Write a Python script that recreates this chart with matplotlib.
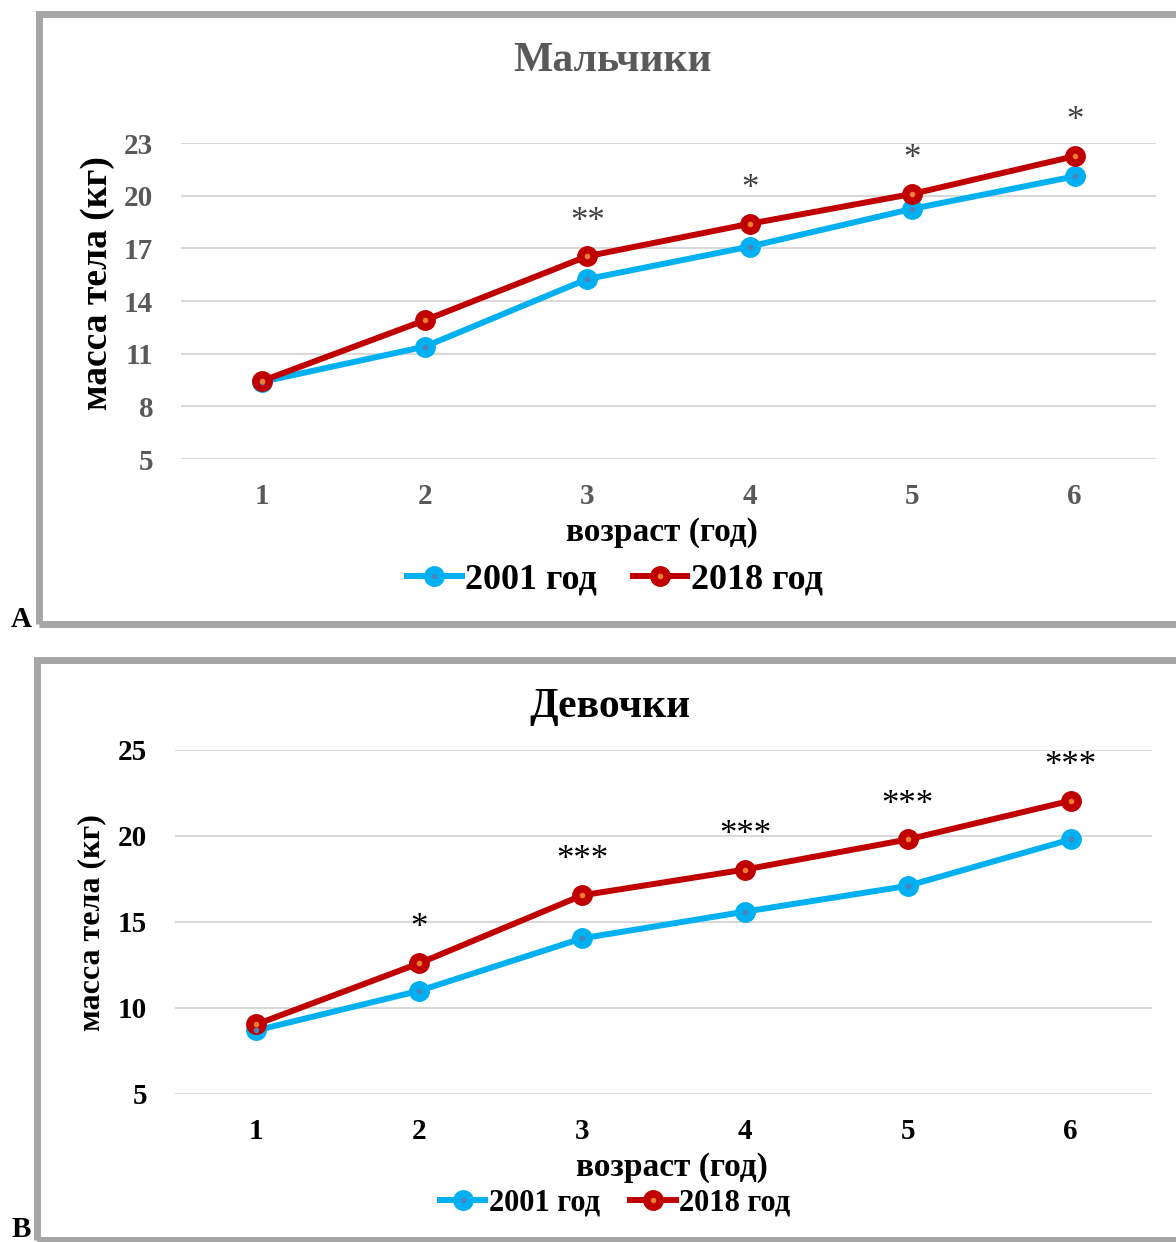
import matplotlib.pyplot as plt
from matplotlib.patches import Rectangle
from matplotlib.legend_handler import HandlerTuple
from matplotlib.lines import Line2D

plt.rcParams['font.family'] = ['Liberation Serif', 'DejaVu Serif']
plt.rcParams['font.weight'] = 'bold'
plt.rcParams['axes.labelweight'] = 'bold'

ages = [1, 2, 3, 4, 5, 6]
age_labels = ['1', '2', '3', '4', '5', '6']

boys_2001 = [9.4, 11.4, 15.25, 17.1, 19.25, 21.1]
boys_2018 = [9.45, 12.9, 16.55, 18.4, 20.1, 22.25]
boys_marks = ['', '', '**', '*', '*', '*']
boys_ticks = [5, 8, 11, 14, 17, 20, 23]

girls_2001 = [8.7, 11.0, 14.05, 15.6, 17.1, 19.8]
girls_2018 = [9.05, 12.6, 16.55, 18.05, 19.8, 22.05]
girls_marks = ['', '*', '***', '***', '***', '***']
girls_ticks = [5, 10, 15, 20, 25]

W, H = 1176, 1242
fig = plt.figure(figsize=(W / 100, H / 100), dpi=100)

BLUE, BLUE_DOT = '#00B0F0', '#4F81BD'
RED, RED_DOT = '#C00000', '#ED7D31'


def fx(px):
    return px / W


def fy(py):
    return 1 - py / H


def panel(rect, y1, y2, marks, ticks, title, col, mark_col, mark_off,
          title_xy, ylab, ylab_size, xlab_xy, leg_y, leg_size):
    ax = fig.add_axes(rect)
    for vals, c, dc in [(y1, BLUE, BLUE_DOT), (y2, RED, RED_DOT)]:
        ax.plot(ages, vals, color=c, lw=4.3, marker='o', ms=14,
                markerfacecolor=c, markeredgecolor=c, zorder=3,
                solid_capstyle='round')
        ax.plot(ages, vals, ls='none', marker='o', ms=3, color=dc, zorder=4)
    # significance marks above the 2018 points
    for x, v, m in zip(ages, y2, marks):
        if m:
            ax.text(x, v + mark_off, m, ha='center', va='center',
                    fontsize=25, fontweight='normal', color=mark_col,
                    clip_on=False)
    ax.set_xlim(0.5, 6.5)
    ax.set_ylim(ticks[0], ticks[-1])
    ax.set_yticks(ticks)
    ax.set_xticks(ages)
    ax.set_xticklabels(age_labels)
    ax.tick_params(length=0, labelsize=21, labelcolor=col)
    ax.tick_params(axis='y', pad=20)
    ax.tick_params(axis='x', pad=17)
    for s in ax.spines.values():
        s.set_visible(False)
    ax.yaxis.grid(True, color='#D9D9D9', lw=1.5)
    ax.set_axisbelow(True)
    ax.set_ylabel(ylab, fontsize=ylab_size, color='black', va='center')
    ax.set_xlabel('возраст (год)', fontsize=24, color='black', va='center')
    ax.xaxis.set_label_coords(*xlab_xy)
    fig.text(fx(title_xy[0]), fy(title_xy[1]), title, fontsize=30,
             color=col, ha='center', va='center')
    h1 = (Line2D([], [], color=BLUE, lw=4.3, marker='o', ms=14),
          Line2D([], [], ls='none', marker='o', ms=3, color=BLUE_DOT))
    h2 = (Line2D([], [], color=RED, lw=4.3, marker='o', ms=14),
          Line2D([], [], ls='none', marker='o', ms=3, color=RED_DOT))
    fig.legend([h1, h2], ['2001 год', '2018 год'], ncol=2, frameon=False,
               loc='center', bbox_to_anchor=(fx(615), fy(leg_y)),
               fontsize=leg_size, handlelength=1.5, handletextpad=0.1,
               columnspacing=1.0, handler_map={tuple: HandlerTuple(ndivide=1)})
    return ax


ax1 = panel([fx(181), fy(459), fx(1156) - fx(181), fy(143) - fy(459)],
            boys_2001, boys_2018, boys_marks, boys_ticks, 'Мальчики',
            '#595959', '#404040', 1.95, (612, 61), 'масса тела (кг)', 27,
            (0.493, -0.234), 580, 26)
ax1.yaxis.set_label_coords(-0.086, 0.557)

ax2 = panel([fx(175), fy(1094), fx(1152) - fx(175), fy(750) - fy(1094)],
            girls_2001, girls_2018, girls_marks, girls_ticks, 'Девочки',
            'black', 'black', 2.0, (610, 707), 'масса тела (кг)', 23,
            (0.509, -0.215), 1203, 22)
ax2.yaxis.set_label_coords(-0.085, 0.497)

# panel frames
fig.add_artist(Rectangle((fx(38.5), fy(624)), fx(1200 - 38.5), fy(14) - fy(624),
                         transform=fig.transFigure, fill=False,
                         edgecolor='#A6A6A6', lw=5, clip_on=False))
fig.add_artist(Rectangle((fx(37), fy(1240)), fx(1200 - 37), fy(660) - fy(1240),
                         transform=fig.transFigure, fill=False,
                         edgecolor='#A6A6A6', lw=5, clip_on=False))

fig.text(fx(21), fy(627), 'А', fontsize=21, ha='center', va='baseline')
fig.text(fx(21), fy(1237), 'В', fontsize=21, ha='center', va='baseline')

fig.savefig('out.png', dpi=100)
